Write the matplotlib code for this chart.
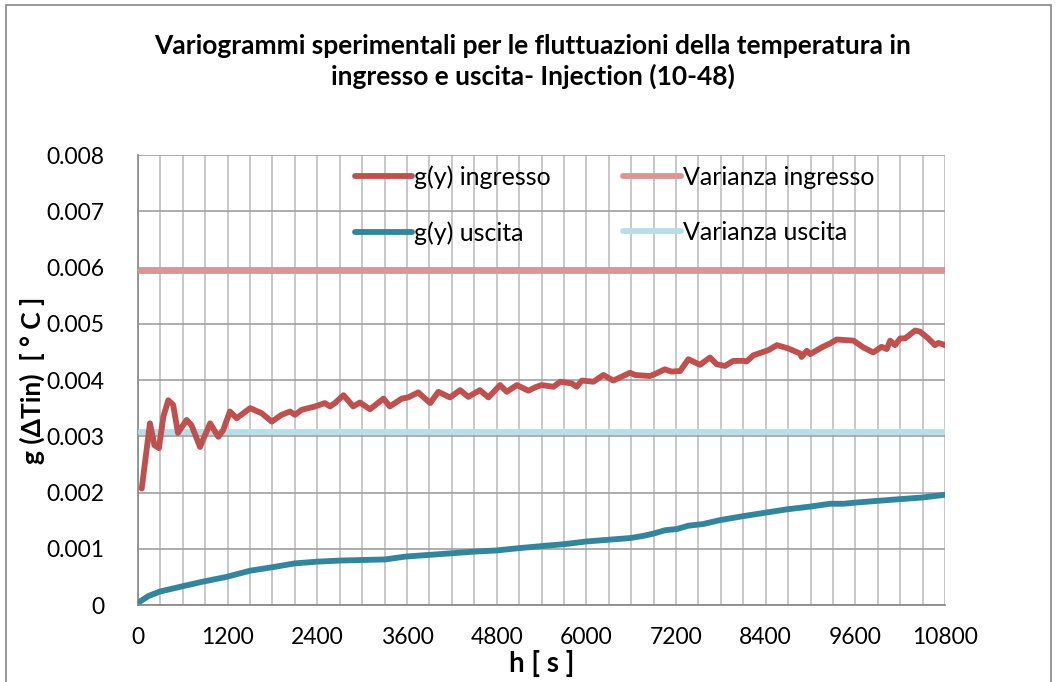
import matplotlib.pyplot as plt
from matplotlib.patches import Rectangle
from matplotlib.ticker import MultipleLocator

# variogram of inlet temperature fluctuations (lag [s], gamma)
lag_in = [50, 160, 220, 280, 340, 405, 470, 535, 650, 715, 830, 965, 1075, 1140,
          1230, 1320, 1500, 1655, 1790, 1920, 2035, 2100, 2190, 2370, 2500, 2570,
          2635, 2750, 2880, 2970, 3105, 3285, 3370, 3530, 3615, 3750, 3910, 4020,
          4175, 4310, 4420, 4575, 4690, 4845, 4935, 5070, 5225, 5315, 5400, 5560,
          5650, 5805, 5870, 5940, 6095, 6230, 6360, 6475, 6585, 6650, 6850, 6940,
          7050, 7140, 7255, 7365, 7520, 7655, 7745, 7855, 7965, 8100, 8145, 8235,
          8435, 8550, 8705, 8860, 8880, 8950, 8995, 9150, 9260, 9350, 9575, 9705,
          9840, 9950, 10020, 10065, 10130, 10200, 10265, 10400, 10465, 10575,
          10665, 10710, 10800]
g_in = [0.00207, 0.00323, 0.00284, 0.00279, 0.00335, 0.00364, 0.00356, 0.00306,
        0.00329, 0.00320, 0.00281, 0.00323, 0.00299, 0.00311, 0.00344, 0.00332,
        0.00350, 0.00341, 0.00326, 0.00338, 0.00344, 0.00338, 0.00347, 0.00353,
        0.00359, 0.00353, 0.00359, 0.00373, 0.00353, 0.00360, 0.00348, 0.00367,
        0.00353, 0.00367, 0.00369, 0.00378, 0.00359, 0.00379, 0.00369, 0.00382,
        0.00370, 0.00382, 0.00369, 0.00391, 0.00379, 0.00391, 0.00381, 0.00387,
        0.00391, 0.00388, 0.00397, 0.00394, 0.00388, 0.00399, 0.00397, 0.00409,
        0.00399, 0.00406, 0.00413, 0.00409, 0.00407, 0.00412, 0.00419, 0.00415,
        0.00416, 0.00437, 0.00427, 0.00440, 0.00428, 0.00425, 0.00434, 0.00434,
        0.00433, 0.00444, 0.00453, 0.00462, 0.00456, 0.00447, 0.00441, 0.00452,
        0.00446, 0.00458, 0.00465, 0.00472, 0.00470, 0.00458, 0.00449, 0.00459,
        0.00455, 0.00470, 0.00462, 0.00474, 0.00474, 0.00488, 0.00486, 0.00474,
        0.00462, 0.00466, 0.00462]

# variogram of outlet temperature fluctuations
lag_out = [25, 140, 295, 585, 850, 1185, 1500, 1790, 2100, 2390, 2700, 2995, 3305,
           3575, 3885, 4200, 4510, 4800, 5090, 5425, 5690, 6005, 6295, 6585, 6765,
           6900, 7055, 7210, 7365, 7565, 7790, 8100, 8390, 8680, 8995, 9260, 9440,
           9595, 9885, 10175, 10490, 10800]
g_out = [0.00006, 0.00016, 0.00024, 0.00033, 0.00041, 0.00050, 0.00061, 0.00067,
         0.00074, 0.00077, 0.00079, 0.00080, 0.00081, 0.00086, 0.00089, 0.00092,
         0.00095, 0.00097, 0.00101, 0.00105, 0.00108, 0.00113, 0.00116, 0.00119,
         0.00123, 0.00127, 0.00133, 0.00135, 0.00141, 0.00144, 0.00151, 0.00158,
         0.00164, 0.00170, 0.00175, 0.00180, 0.00180, 0.00182, 0.00185, 0.00188,
         0.00191, 0.00196]

var_in = 0.00593
var_out = 0.00308
h_span = [25, 10800]

plt.rcParams['font.family'] = ['Lato', 'DejaVu Sans']

fig = plt.figure(figsize=(10.59, 6.82), dpi=100)
ax = fig.add_axes([0.1303, 0.1129, 0.7621, 0.6598])

# chart border
fig.patches.append(Rectangle((6 / 1059, -0.05), 1045 / 1059, 1.0 - 5 / 682 + 0.05,
                             transform=fig.transFigure, fill=False,
                             edgecolor='#868686', linewidth=1.2))

lw = 4.2
ax.plot(lag_in, g_in, color='#C0504D', lw=lw, label='g(y) ingresso',
        solid_capstyle='round', zorder=4)
ax.plot(lag_out, g_out, color='#31859C', lw=lw, label='g(y) uscita',
        solid_capstyle='round', zorder=4)
ax.plot(h_span, [var_in, var_in], color='#D99694', lw=lw, label='Varianza ingresso',
        solid_capstyle='round', zorder=3)
ax.plot(h_span, [var_out, var_out], color='#B7DEE8', lw=lw, label='Varianza uscita',
        solid_capstyle='round', zorder=3)

ax.set_xlim(0, 10800)
ax.set_ylim(0, 0.008)
ax.xaxis.set_major_locator(MultipleLocator(1200))
ax.xaxis.set_minor_locator(MultipleLocator(300))
ax.yaxis.set_major_locator(MultipleLocator(0.001))
ax.yaxis.set_major_formatter(plt.FuncFormatter(lambda v, p: '0' if v == 0 else f'{v:.3f}'))

ax.grid(axis='x', which='both', color='#BFBFBF', lw=1.2)
ax.grid(axis='y', which='major', color='#A0A0A0', lw=1.2)
ax.set_axisbelow(True)
for s in ['top', 'right']:
    ax.spines[s].set_visible(False)
for s in ['left', 'bottom']:
    ax.spines[s].set_color('#868686')
    ax.spines[s].set_linewidth(1.2)

ax.tick_params(which='both', length=0, labelsize=16.5)
ax.tick_params(axis='x', pad=16)
ax.tick_params(axis='y', pad=24)

ax.set_xlabel('h [ s ]', fontsize=20, fontweight='bold', labelpad=1)
ax.set_ylabel('g (ΔTin)  [ ° C ]', fontsize=19, fontweight='bold', labelpad=1)

fig.text(0.503, 0.91, 'Variogrammi sperimentali per le fluttuazioni della temperatura in\n'
         'ingresso e uscita- Injection (10-48)', ha='center', va='center',
         fontsize=19, fontweight='bold', linespacing=1.25)

ax.legend(loc='upper left', bbox_to_anchor=(0.256, 1.0), ncol=2, frameon=False,
          fontsize=18, handlelength=2.3, handletextpad=0.08, labelspacing=1.3,
          columnspacing=2.9, borderaxespad=0.0)

fig.savefig('out.png', dpi=100)
